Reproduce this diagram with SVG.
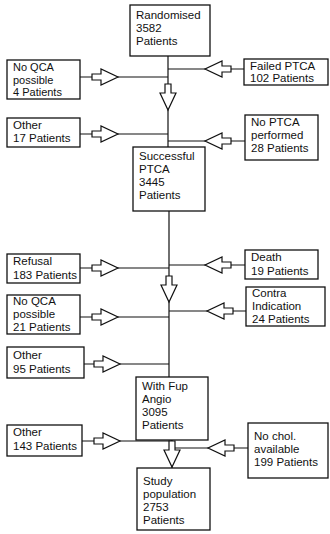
<svg xmlns="http://www.w3.org/2000/svg" width="330" height="534" viewBox="0 0 330 534">
<defs>
<style>
.box rect{fill:#fff;stroke:#111;stroke-width:1.3}
text{font-family:"Liberation Sans",Arial,sans-serif;font-size:11.5px;fill:#111}
.sm{font-size:11px}
.ln{stroke:#111;stroke-width:1.2;fill:none}
.ar{fill:#fff;stroke:#111;stroke-width:1.2;stroke-linejoin:miter}
</style>
<path id="arR" d="M-26,-3 H-17 V-8 L0,0 L-17,8 V3 H-26 Z"/>
</defs>
<rect width="330" height="534" fill="#fff"/>
<g id="connectors">
<path class="ln" d="M168,56 V147 M80,77 H168 M244,69 H168 M80,134 H168 M245,141 H168"/>
<path class="ln" d="M169,211 V377 M80,268 H169 M245,265 H169 M80,317 H169 M246,311 H169 M84,364 H169"/>
<path class="ln" d="M172,440 V468 M82,441 H172 M248,448 H172"/>
<use href="#arR" class="ar" transform="translate(118,77)"/>
<use href="#arR" class="ar" transform="translate(205,69) scale(-1,1)"/>
<use href="#arR" class="ar" transform="translate(168,110) rotate(90)"/>
<use href="#arR" class="ar" transform="translate(118,134)"/>
<use href="#arR" class="ar" transform="translate(205,141) scale(-1,1)"/>
<use href="#arR" class="ar" transform="translate(118,268)"/>
<use href="#arR" class="ar" transform="translate(205,265) scale(-1,1)"/>
<use href="#arR" class="ar" transform="translate(169,302) rotate(90)"/>
<use href="#arR" class="ar" transform="translate(118,317)"/>
<use href="#arR" class="ar" transform="translate(207,311) scale(-1,1)"/>
<use href="#arR" class="ar" transform="translate(120,364)"/>
<use href="#arR" class="ar" transform="translate(120,441)"/>
<use href="#arR" class="ar" transform="translate(208,448) scale(-1,1)"/>
<use href="#arR" class="ar" transform="translate(172,467) rotate(90)"/>
</g>
<g id="randomised" class="box"><rect x="130" y="5" width="80" height="51"/><text x="136" y="19">Randomised</text><text x="136" y="32">3582</text><text x="136" y="45">Patients</text></g>
<g id="noqca4" class="box"><rect x="7" y="60" width="73" height="39"/><text class="sm" x="13" y="71">No QCA</text><text class="sm" x="13" y="83.5">possible</text><text class="sm" x="13" y="96">4 Patients</text></g>
<g id="failed" class="box"><rect x="244" y="59" width="84" height="26"/><text x="250" y="70">Failed PTCA</text><text x="250" y="82">102 Patients</text></g>
<g id="other17" class="box"><rect x="7" y="118" width="73" height="29"/><text x="13" y="129">Other</text><text x="13" y="142">17 Patients</text></g>
<g id="noptca" class="box"><rect x="245" y="115" width="73" height="45"/><text x="251" y="126">No PTCA</text><text x="251" y="139">performed</text><text x="251" y="152">28 Patients</text></g>
<g id="successful" class="box"><rect x="133" y="147" width="72" height="64"/><text x="139" y="160">Successful</text><text x="139" y="173">PTCA</text><text x="139" y="186">3445</text><text x="139" y="199">Patients</text></g>
<g id="refusal" class="box"><rect x="7" y="254" width="73" height="29"/><text x="13" y="265">Refusal</text><text x="13" y="279">183 Patients</text></g>
<g id="death" class="box"><rect x="245" y="250" width="73" height="29"/><text x="251" y="261">Death</text><text x="251" y="275">19 Patients</text></g>
<g id="contra" class="box"><rect x="246" y="287" width="79" height="39"/><text x="252" y="297">Contra</text><text x="252" y="310">Indication</text><text x="252" y="323">24 Patients</text></g>
<g id="noqca21" class="box"><rect x="7" y="295" width="73" height="39"/><text x="13" y="305">No QCA</text><text x="13" y="318">possible</text><text x="13" y="331">21 Patients</text></g>
<g id="other95" class="box"><rect x="7" y="347" width="77" height="31"/><text x="13" y="359">Other</text><text x="13" y="373">95 Patients</text></g>
<g id="withfup" class="box"><rect x="136" y="377" width="72" height="63"/><text x="142" y="390">With Fup</text><text x="142" y="403">Angio</text><text x="142" y="416">3095</text><text x="142" y="429">Patients</text></g>
<g id="other143" class="box"><rect x="7" y="425" width="75" height="31"/><text x="13" y="436">Other</text><text x="13" y="450">143 Patients</text></g>
<g id="nochol" class="box"><rect x="248" y="423" width="80" height="55"/><text x="254" y="440">No chol.</text><text x="254" y="453">available</text><text x="254" y="466">199 Patients</text></g>
<g id="study" class="box"><rect x="137" y="468" width="73" height="62"/><text x="143" y="485">Study</text><text x="143" y="498">population</text><text x="143" y="511">2753</text><text x="143" y="524">Patients</text></g>
</svg>
